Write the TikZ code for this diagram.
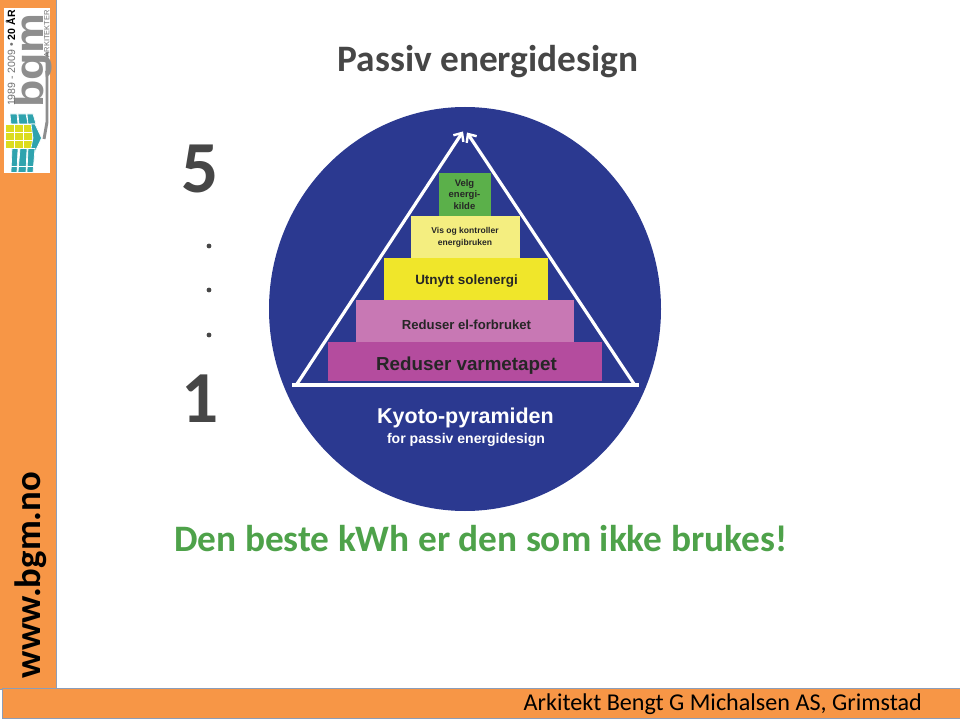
\documentclass[tikz,border=0pt]{standalone}
\usepackage{fontspec}
\setmainfont{Carlito}
\newfontfamily\arialf{Liberation Sans}
\usetikzlibrary{arrows.meta}
\definecolor{bandorange}{HTML}{F79646}
\definecolor{bandedge}{HTML}{8C9DB8}
\definecolor{discblue}{HTML}{2B3990}
\definecolor{stepgreen}{HTML}{5BB04A}
\definecolor{steppale}{HTML}{F4EE80}
\definecolor{stepyellow}{HTML}{F0E62A}
\definecolor{steppink}{HTML}{C878B4}
\definecolor{stepmagenta}{HTML}{B44C9E}
\definecolor{slogan}{HTML}{4EA24A}
\definecolor{headgrey}{HTML}{464646}
\definecolor{logogrey}{HTML}{8E8E8E}
\definecolor{logoteal}{HTML}{2FA3AE}
\definecolor{logoyellow}{HTML}{DCDC1E}
\tikzset{
  band/.style={fill=bandorange,draw=bandedge,line width=0.6pt},
  steptext/.style={text=black!85,align=center,inner sep=0pt},
  pyramidline/.style={draw=white,line width=2.4pt},
  pyramidtip/.style={-{Straight Barb[length=5pt,width=9pt,line width=1.8pt]}},
  tile/.style={draw=white,line width=0.5pt},
}
\begin{document}
\begin{tikzpicture}[x=0.75pt,y=-0.75pt]
\useasboundingbox (0,0) rectangle (960,720);
\fill[white] (0,0) rectangle (960,720);

% side and foot bands
\draw[band] (-2,-2) rectangle (56,689);
\draw[band] (2,688) rectangle (962,718);
\node[rotate=90,font=\bfseries\fontsize{27.5}{28}\selectfont,inner sep=0pt] (site) at (31,575) {www.bgm.no};
\node[anchor=east,font=\fontsize{18.1}{20}\selectfont,inner sep=0pt] (firm) at (922,704.5) {Arkitekt Bengt G Michalsen AS, Grimstad};

% logo: lettering
\fill[white] (4,8) rectangle (50,173);
\node[rotate=90,font=\arialf\bfseries\fontsize{30}{30}\selectfont,text=logogrey,inner sep=0pt,xscale=1.12,anchor=base east] (bgmmark) at (43,13) {bgm};
\draw[logogrey,line width=2.2pt,line join=round] (47,52) -- (47,122) -- (44,139);
\node[rotate=90,anchor=east,font=\arialf\fontsize{7.9}{8}\selectfont,text=logogrey!80!black,inner sep=0pt] (years) at (10.5,10) {1989 - 2009 \textbullet{} \textbf{\textcolor{black}{20 ÅR}}};
\node[rotate=90,anchor=east,font=\arialf\fontsize{5.6}{6}\selectfont,text=logogrey!80!black,inner sep=0pt] (arkitekter) at (46.8,10) {ARKITEKTER};

% logo: tiled mark
\foreach \a/\b/\c/\d in {11/18/17/10, 19/28/26/18, 28/36/33/27}{
  \fill[logoteal,tile] (\a,124) -- (\b,124) -- (\c,114) -- (\d,114) -- cycle;
}
\foreach \ya/\yb in {124/132, 132/140, 140/148}{
  \foreach \xa/\xb in {5/14, 14/23, 23/32}{
    \fill[logoyellow,tile] (\xa,\ya) rectangle (\xb,\yb);
  }
}
\fill[logoteal,tile] (31,124) -- (35,124) -- (41.5,138) -- (35,152) -- (31,148) -- (33,138) -- cycle;
\foreach \a/\b/\c/\d in {12/18/17/11, 20/27/26/18, 28/35/33/27}{
  \fill[logoteal,tile] (\a,148.5) -- (\b,148.5) -- (\c,172.5) -- (\d,172.5) -- cycle;
}
\draw[white,line width=0.7pt] (9,166.5) -- (36,166.5);

% heading and counting column
\node[font=\bfseries\fontsize{28}{30}\selectfont,text=headgrey,inner sep=0pt] (title) at (488,62) {Passiv energidesign};
\node[font=\bfseries\fontsize{55}{55}\selectfont,text=headgrey,inner sep=0pt] (five) at (200.5,169) {5};
\node[font=\bfseries\fontsize{55}{55}\selectfont,text=headgrey,inner sep=0pt] (one) at (200.5,399) {1};
\foreach \n/\y in {dota/246, dotb/290, dotc/335}{
  \node[circle,fill=headgrey,minimum size=3.6pt,inner sep=0pt] (\n) at (209,\y) {};
}

% disc
\fill[discblue] (465,309) ellipse [x radius=196,y radius=202];

% stacked steps
\fill[stepgreen] (439,173) rectangle (491,217);
\fill[steppale] (411,216) rectangle (520,258);
\fill[stepyellow] (384,258) rectangle (548,301);
\fill[steppink] (356,300) rectangle (574,342);
\fill[stepmagenta] (328,342) rectangle (602,381);

\node[steptext,font=\arialf\bfseries\fontsize{7.1}{8.8}\selectfont] (velg) at (464.5,194.5) {Velg\\energi-\\kilde};
\node[steptext,font=\arialf\bfseries\fontsize{6.4}{8.8}\selectfont] (vis) at (465,237) {Vis og kontroller\\energibruken};
\node[steptext,font=\arialf\bfseries\fontsize{10.1}{11}\selectfont] (utnytt) at (466.5,281) {Utnytt solenergi};
\node[steptext,font=\arialf\bfseries\fontsize{9.85}{11}\selectfont] (elforbruk) at (466.5,324.5) {Reduser el-forbruket};
\node[steptext,font=\arialf\bfseries\fontsize{14.1}{15}\selectfont] (varme) at (466.5,366) {Reduser varmetapet};

% pyramid outline
\coordinate (apexL) at (463,131.5);
\coordinate (apexR) at (467,132.5);
\coordinate (left) at (297,384);
\coordinate (right) at (634,384);
\coordinate (baseL) at (292,385);
\coordinate (baseR) at (639,385);
\draw[pyramidline,pyramidtip] (left) -- (apexL);
\draw[pyramidline,pyramidtip] (right) -- (apexR);
\draw[pyramidline,line width=3pt] (baseL) -- (baseR);

% caption on the disc
\node[font=\arialf\bfseries\fontsize{16.1}{17}\selectfont,text=white,inner sep=0pt] (kyoto) at (465.5,418) {Kyoto-pyramiden};
\node[font=\arialf\bfseries\fontsize{10.55}{12}\selectfont,text=white,inner sep=0pt] (forpassiv) at (466,440) {for passiv energidesign};

% closing line
\node[anchor=west,font=\bfseries\fontsize{28}{30}\selectfont,text=slogan,inner sep=0pt] (slogan) at (174,539) {Den beste kWh er den som ikke brukes!};
\end{tikzpicture}
\end{document}
